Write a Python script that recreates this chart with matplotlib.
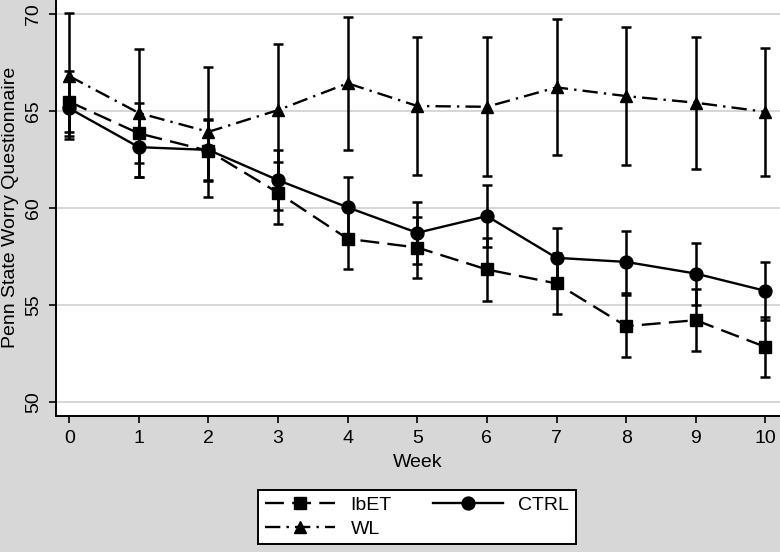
import matplotlib
matplotlib.use("Agg")
import matplotlib.pyplot as plt
import numpy as np

weeks = [0, 1, 2, 3, 4, 5, 6, 7, 8, 9, 10]
ibet_mean = [65.48, 63.85, 62.95, 60.79, 58.42, 57.97, 56.84, 56.12, 53.92, 54.23, 52.85]
ibet_err = [1.57, 1.55, 1.57, 1.6, 1.58, 1.56, 1.6, 1.55, 1.6, 1.6, 1.55]
ctrl_mean = [65.14, 63.14, 63.0, 61.44, 60.04, 58.73, 59.59, 57.44, 57.23, 56.63, 55.74]
ctrl_err = [1.45, 1.52, 1.57, 1.56, 1.55, 1.6, 1.6, 1.56, 1.6, 1.6, 1.5]
wl_mean = [66.8, 64.9, 63.93, 65.05, 66.43, 65.26, 65.22, 66.22, 65.77, 65.43, 64.96]
wl_err = [3.25, 3.32, 3.35, 3.4, 3.43, 3.57, 3.58, 3.5, 3.57, 3.4, 3.28]
series_labels = ["IbET", "CTRL", "WL"]
yticks = [50, 55, 60, 65, 70]
xlabel = "Week"
ylabel = "Penn State Worry Questionnaire"

plt.rcParams['font.family'] = ['Liberation Sans', 'DejaVu Sans']
bg = '#d7d7d7'
fs = 14
fig = plt.figure(figsize=(7.8, 5.52), dpi=100, facecolor=bg)
ax = fig.add_axes([56/780, 1 - 415.7/552, 1 - 56/780, 415.7/552])
ax.set_facecolor('white')

lw = 1.7
common = dict(color='black', lw=lw, markersize=9.3, elinewidth=1.8, capsize=3.8,
              capthick=1.8, ecolor='black', markeredgecolor='black', markerfacecolor='black')
h_ibet = ax.errorbar(weeks, ibet_mean, yerr=ibet_err, marker='s', linestyle=(0, (8, 3.5)),
                     label=series_labels[0], **common)
h_ctrl = ax.errorbar(weeks, ctrl_mean, yerr=ctrl_err, marker='o', linestyle='-',
                     label=series_labels[1], **common)
h_wl = ax.errorbar(weeks, wl_mean, yerr=wl_err, marker='^', linestyle=(0, (6.5, 2.6, 1, 2.6)),
                   label=series_labels[2], **common)

ax.set_xlim(-0.19, 10.21)
ax.set_ylim(49.31, 70.72)
ax.set_xticks(weeks)
ax.set_yticks(yticks)
ax.yaxis.grid(True, color='#d0d0d0', lw=1.2)
ax.set_axisbelow(True)
for s in ['top', 'right']:
    ax.spines[s].set_visible(False)
for s in ['left', 'bottom']:
    ax.spines[s].set_linewidth(1.4)
ax.tick_params(axis='both', length=5, width=1.2, labelsize=fs, color='black')
ax.tick_params(axis='x', pad=5)
ax.tick_params(axis='y', pad=5)
for t in ax.get_yticklabels():
    t.set_rotation(90)
    t.set_va('center')

ax.set_xlabel(xlabel, fontsize=fs)
ax.xaxis.set_label_coords(0.5, -0.113)
ax.xaxis.label.set_va('center')
ax.set_ylabel(ylabel, fontsize=fs)
ax.yaxis.set_label_coords(-0.063, 0.5)
ax.yaxis.label.set_va('center')

handles = [h_ibet, h_wl, h_ctrl]
labels = [series_labels[0], series_labels[2], series_labels[1]]
leg = fig.legend([h[0] for h in handles], labels, ncol=2, loc='center',
                 bbox_to_anchor=(417/780, 1 - 517/552), fontsize=fs, frameon=True,
                 fancybox=False, edgecolor='black', framealpha=1, handlelength=3.6,
                 columnspacing=2.1, handletextpad=0.8, borderpad=0.35, labelspacing=0.3)
leg.get_frame().set_linewidth(1.4)

fig.savefig('out.png', dpi=100, facecolor=bg)
